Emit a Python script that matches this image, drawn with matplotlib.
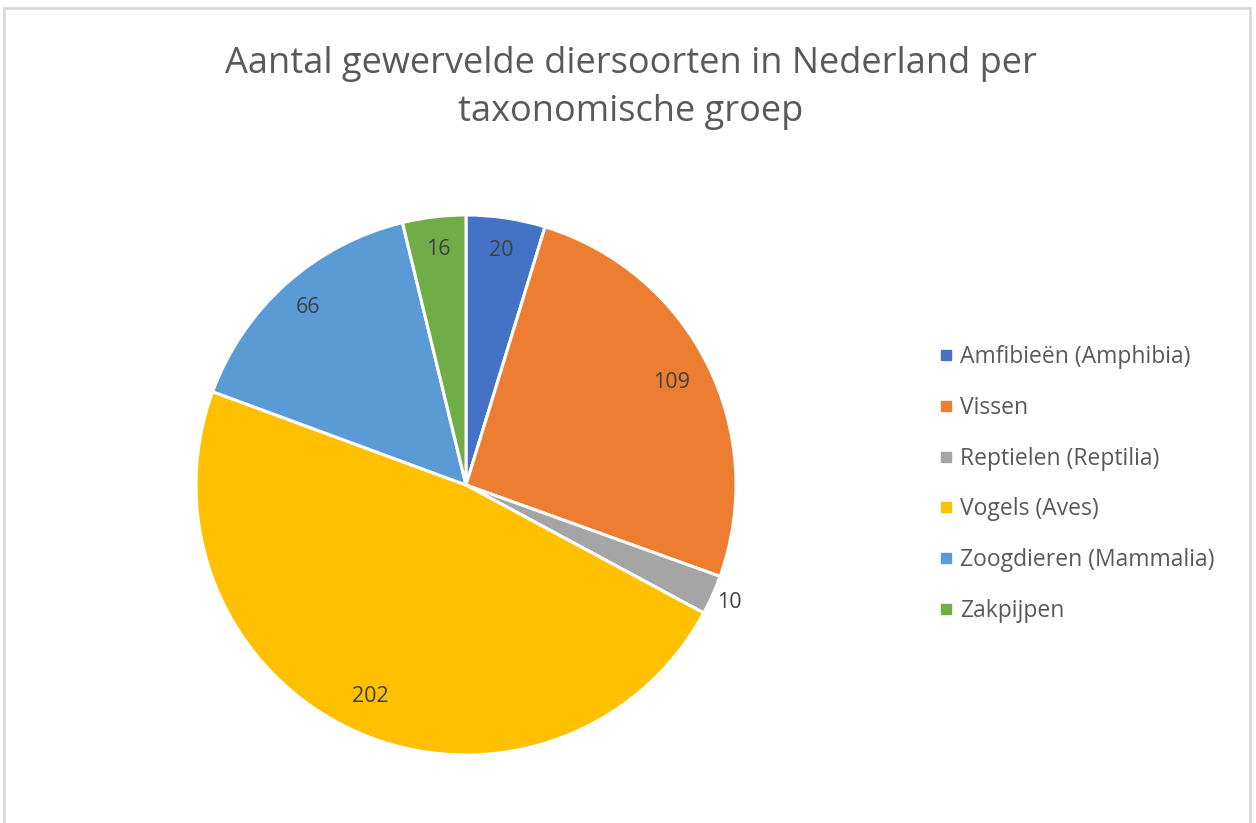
import numpy as np
import matplotlib.pyplot as plt
from matplotlib.lines import Line2D
from matplotlib.patches import Rectangle

groups = ['Amfibieën (Amphibia)', 'Vissen', 'Reptielen (Reptilia)',
          'Vogels (Aves)', 'Zoogdieren (Mammalia)', 'Zakpijpen']
counts = [20, 109, 10, 202, 66, 16]
colors = ['#4472C4', '#ED7D31', '#A5A5A5', '#FFC000', '#5B9BD5', '#70AD47']

# label positions (fraction of radius), Excel "best fit"
label_dist = [0.88, 0.85, 1.07, 0.86, 0.88, 0.88]

plt.rcParams['font.family'] = ['Open Sans', 'DejaVu Sans']
txt = '#595959'

fig = plt.figure(figsize=(12.56, 8.23), dpi=100)
fig.patches.append(Rectangle((4 / 1256, -0.01), 1246 / 1256, 1 - 8 / 823 + 0.01,
                             transform=fig.transFigure, fill=False,
                             edgecolor='#D9D9D9', linewidth=2))

ax = fig.add_axes([(466 - 280) / 1256, (823 - 485 - 280) / 823, 560 / 1256, 560 / 823])
R = 270 / 280
wedges, _ = ax.pie(counts, colors=colors, startangle=90, counterclock=False,
                   radius=R, wedgeprops=dict(edgecolor='white', linewidth=2.2))
ax.set_xlim(-1, 1)
ax.set_ylim(-1, 1)
ax.set_aspect('equal')
ax.axis('off')

for w, n, d in zip(wedges, counts, label_dist):
    a = np.deg2rad((w.theta1 + w.theta2) / 2)
    ax.text(R * d * np.cos(a), R * d * np.sin(a), str(n), ha='center', va='center',
            fontsize=15.5, color='#404040')

fig.text(0.502, 1 - 88 / 823, 'Aantal gewervelde diersoorten in Nederland per\ntaxonomische groep',
         ha='center', va='center', fontsize=26, color=txt, linespacing=1.42)

handles = [Line2D([], [], marker='s', linestyle='none', markersize=7,
                  markerfacecolor=c, markeredgecolor=c) for c in colors]
fig.legend(handles, groups, loc='center left', bbox_to_anchor=(920 / 1256, (823 - 484) / 823),
           frameon=False, fontsize=16.5, labelcolor=txt, handlelength=0.5,
           handletextpad=0.35, labelspacing=1.17)

plt.savefig('out.png', dpi=100)
